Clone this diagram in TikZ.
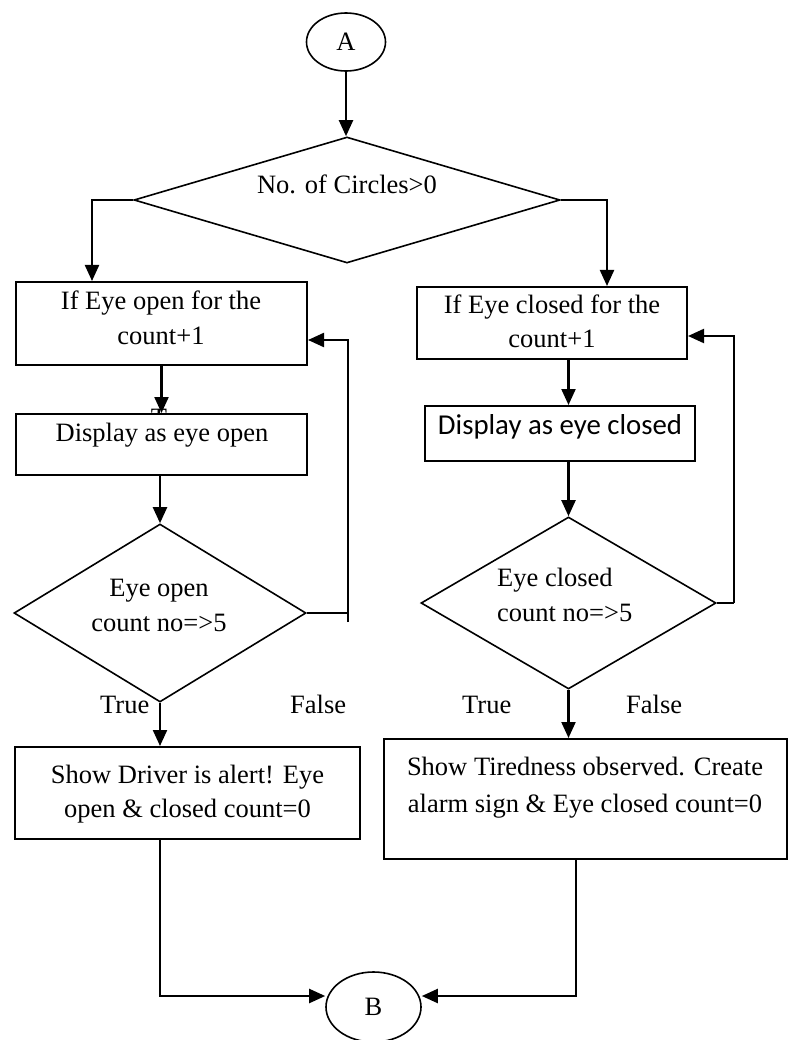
\documentclass[tikz,border=0pt]{standalone}
\usepackage{fontspec}
\setmainfont{Liberation Serif}
\newfontfamily\calfont{Carlito}
\usetikzlibrary{shapes.geometric,arrows.meta}
\begin{document}
\begin{tikzpicture}[x=1pt,y=-1pt,
  every node/.style={font=\fontsize{26.5}{32}\selectfont},
  box/.style={draw,rectangle,line width=2pt,inner sep=0pt,fill=white},
  dia/.style={draw,diamond,line width=1.6pt,inner sep=0pt},
  term/.style={draw,ellipse,line width=1.6pt,inner sep=0pt},
  txt/.style={anchor=base,inner sep=0pt},
  txtl/.style={anchor=base west,inner sep=0pt},
  arr/.style={line width=2.2pt,-{Triangle[length=16pt,width=14pt]}},
  ln/.style={line width=2.2pt}]
\fill[white] (0,0) rectangle (793,1040);
\useasboundingbox (0,0) rectangle (793,1040);

% stray glyph partly hidden behind the box
\node[txt] (tart) at (159,426) {T};

% shapes
\node[term,minimum width=79pt,minimum height=58pt] (A) at (346,42) {A};
\node[dia,minimum width=426pt,minimum height=126pt] (d1) at (347,200) {};
\node[box,minimum width=291pt,minimum height=83pt] (L1) at (161.5,323.5) {};
\node[box,minimum width=291pt,minimum height=61pt] (L2) at (161.5,444.5) {};
\node[dia,minimum width=292pt,minimum height=178pt] (dL) at (160,613) {};
\node[box,minimum width=345pt,minimum height=92pt] (L3) at (187.5,793) {};
\node[box,minimum width=270pt,minimum height=72pt] (R1) at (552,323) {};
\node[box,minimum width=270pt,minimum height=55pt] (R2) at (560,433.5) {};
\node[dia,minimum width=295pt,minimum height=172pt] (dR) at (568.5,603) {};
\node[box,minimum width=403pt,minimum height=120pt] (R3) at (585.5,799) {};
\node[term,minimum width=95pt,minimum height=70pt] (B) at (373.5,1007) {B};

% texts
\node[txt] (t1) at (347,194) {No. of Circles>0};
\node[txt] (tL1a) at (161,309) {If Eye open for the};
\node[txt] (tL1b) at (161,344) {count+1};
\node[txt] (tL2) at (162,441) {Display as eye open};
\node[txt] (tdLa) at (159,596) {Eye open};
\node[txt] (tdLb) at (159,631) {count no=>5};
\node[txtl] (trL) at (100,713) {True};
\node[txtl] (faL) at (290,713) {False};
\node[txt] (tL3a) at (187.5,783) {Show Driver is alert! Eye};
\node[txt] (tL3b) at (187.5,817) {open \& closed count=0};
\node[txt] (tR1a) at (552,313) {If Eye closed for the};
\node[txt] (tR1b) at (552,347) {count+1};
\node[txt,font=\calfont\fontsize{28.8}{34}\selectfont] (tR2) at (560,434) {Display as eye closed};
\node[txtl] (tdRa) at (497,586) {Eye closed};
\node[txtl] (tdRb) at (497,621) {count no=>5};
\node[txtl] (trR) at (462,713) {True};
\node[txtl] (faR) at (626,713) {False};
\node[txt] (tR3a) at (585,775) {Show Tiredness observed. Create};
\node[txt] (tR3b) at (585,812) {alarm sign \& Eye closed count=0};

% connectors
\coordinate (fbL) at (348,622);
\coordinate (fbR) at (734,603);
\coordinate (bIn) at (0,996);
\draw[arr] (A.south) -- (A.south |- d1.north);
\draw[arr] (d1.west) -| ([xshift=-69.5pt]L1.north);
\draw[arr] (d1.east) -| ([xshift=55pt]R1.north);
\draw[arr] (L1.south) -- (L2.north);
\draw[arr] (L2.south -| dL.north) -- (dL.north);
\draw[arr] (dL.south) -- (dL.south |- L3.north);
\draw[ln] (dL.east) -- (dL.east -| fbL);
\draw[arr] (fbL) |- ([yshift=-16.5pt]L1.east);
\draw[arr] (R1.south -| dR.north) -- (R2.north -| dR.north);
\draw[arr] (R2.south -| dR.north) -- (dR.north);
\draw[arr] (dR.south) -- (dR.south |- R3.north);
\draw[ln] (dR.east) -- (fbR);
\draw[arr] (fbR) |- ([yshift=-13pt]R1.east);
\draw[arr] (L3.south -| dL.south) |- (B.west |- bIn);
\draw[arr] ([xshift=-9.5pt]R3.south) |- (B.east |- bIn);
\end{tikzpicture}
\end{document}
